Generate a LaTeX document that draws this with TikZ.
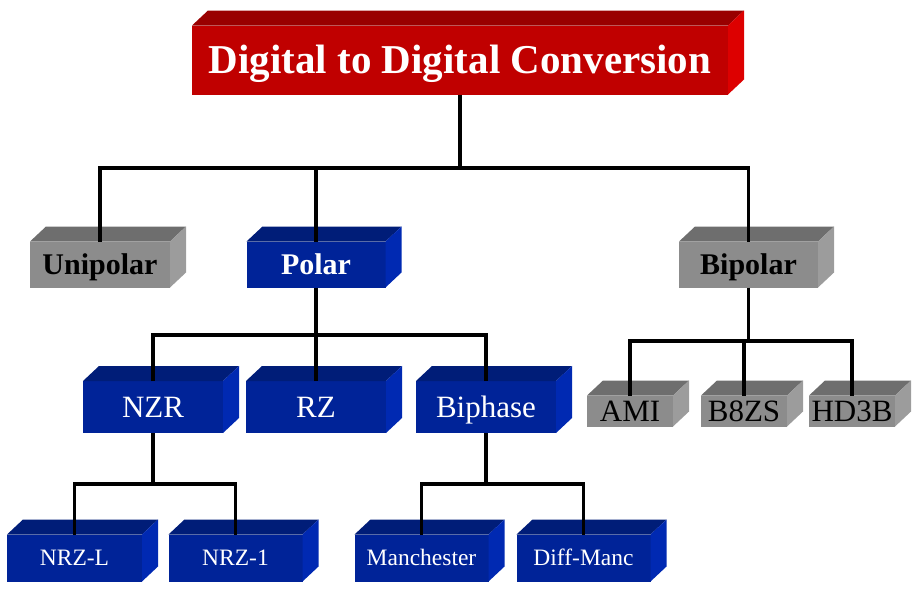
\documentclass[tikz,border=0pt]{standalone}
\usepackage{fontspec}
\setmainfont{Liberation Serif}
\definecolor{redfront}{HTML}{C00000}
\definecolor{redtop}{HTML}{990000}
\definecolor{redside}{HTML}{DD0000}
\definecolor{bluefront}{HTML}{002398}
\definecolor{bluetop}{HTML}{001D78}
\definecolor{blueside}{HTML}{0029B2}
\definecolor{grayfront}{HTML}{8C8C8C}
\definecolor{graytop}{HTML}{6E6E6E}
\definecolor{grayside}{HTML}{9C9C9C}
\begin{document}
\begin{tikzpicture}[x=1pt,y=-1pt,
    slab/.style={inner sep=0pt, outer sep=0pt, text depth=0pt},
    redslab/.style={slab, fill=redfront, text=white, text height=27pt, font=\bfseries\fontsize{41}{41}\selectfont},
    blueslab/.style={slab, fill=bluefront, text=white},
    grayslab/.style={slab, fill=grayfront, text=black},
    headfont/.style={text height=20pt, font=\bfseries\fontsize{30}{30}\selectfont},
    midfont/.style={text height=20.5pt, font=\fontsize{31}{31}\selectfont},
    smallfont/.style={text height=15.5pt, font=\fontsize{23.5}{23.5}\selectfont},
    link/.style={line width=3.5pt}]
    \useasboundingbox (0,0) rectangle (915,595);

    % 标题
    \node[redslab, minimum width=536, minimum height=69] (title) at (460,60) {Digital to Digital Conversion};

    % 第二层
    \node[grayslab, headfont, minimum width=140, minimum height=46] (unipolar) at (100,264.5) {Unipolar};
    \node[blueslab, headfont, minimum width=139, minimum height=46] (polar) at (316,264.5) {Polar};
    \node[grayslab, headfont, minimum width=139, minimum height=46] (bipolar) at (748.5,264.5) {Bipolar};

    % 第三层
    \node[blueslab, midfont, minimum width=140, minimum height=52] (nzr) at (153,407) {NZR};
    \node[blueslab, midfont, minimum width=140, minimum height=52] (rz) at (316,407) {RZ};
    \node[blueslab, midfont, minimum width=140, minimum height=52] (biphase) at (486,407) {Biphase};
    \node[grayslab, midfont, minimum width=86, minimum height=31] (ami) at (630,411) {AMI};
    \node[grayslab, midfont, minimum width=86, minimum height=31] (bzs) at (744,411) {B8ZS};
    \node[grayslab, midfont, minimum width=86, minimum height=31] (hdb) at (852,411) {HD3B};

    % 第四层
    \node[blueslab, smallfont, minimum width=135, minimum height=47] (nrzl) at (74.5,558) {NRZ-L};
    \node[blueslab, smallfont, minimum width=134, minimum height=47] (nrzi) at (235.5,558) {NRZ-1};
    \node[blueslab, smallfont, minimum width=134, minimum height=47] (manch) at (421.5,558) {Manchester};
    \node[blueslab, smallfont, minimum width=134, minimum height=47] (diffm) at (583.5,558) {Diff-Manc};

    % 立体的顶面和侧面
    \foreach \n/\c in {title/red, unipolar/gray, polar/blue, bipolar/gray,
        nzr/blue, rz/blue, biphase/blue, ami/gray, bzs/gray, hdb/gray,
        nrzl/blue, nrzi/blue, manch/blue, diffm/blue} {
        \fill[\c top] (\n.north west) -- ++(16,-15) -- ([shift={(16,-15)}]\n.north east) -- (\n.north east) -- cycle;
        \fill[\c side] (\n.north east) -- ++(16,-15) -- ([shift={(16,-15)}]\n.south east) -- (\n.south east) -- cycle;
    }

    % 连线
    \coordinate (j1) at (460,168);
    \coordinate (j2) at (316,335);
    \coordinate (j3) at (748.5,341);
    \coordinate (j4) at (153,484);
    \coordinate (j5) at (486,484);
    \draw[link] (title.south) -- (j1);
    \draw[link] (unipolar.north) |- (j1);
    \draw[link] (polar.north) |- (j1);
    \draw[link] (bipolar.north) |- (j1);

    \draw[link] (polar.south) -- (j2);
    \draw[link] (nzr.north) |- (j2);
    \draw[link] (rz.north) |- (j2);
    \draw[link] (biphase.north) |- (j2);

    \draw[link] (bipolar.south) -- (j3);
    \draw[link] (ami.north) |- (j3);
    \draw[link] (bzs.north) |- (j3);
    \draw[link] (hdb.north) |- (j3);

    \draw[link] (nzr.south) -- (j4);
    \draw[link] (nrzl.north) |- (j4);
    \draw[link] (nrzi.north) |- (j4);

    \draw[link] (biphase.south) -- (j5);
    \draw[link] (manch.north) |- (j5);
    \draw[link] (diffm.north) |- (j5);
\end{tikzpicture}
\end{document}
